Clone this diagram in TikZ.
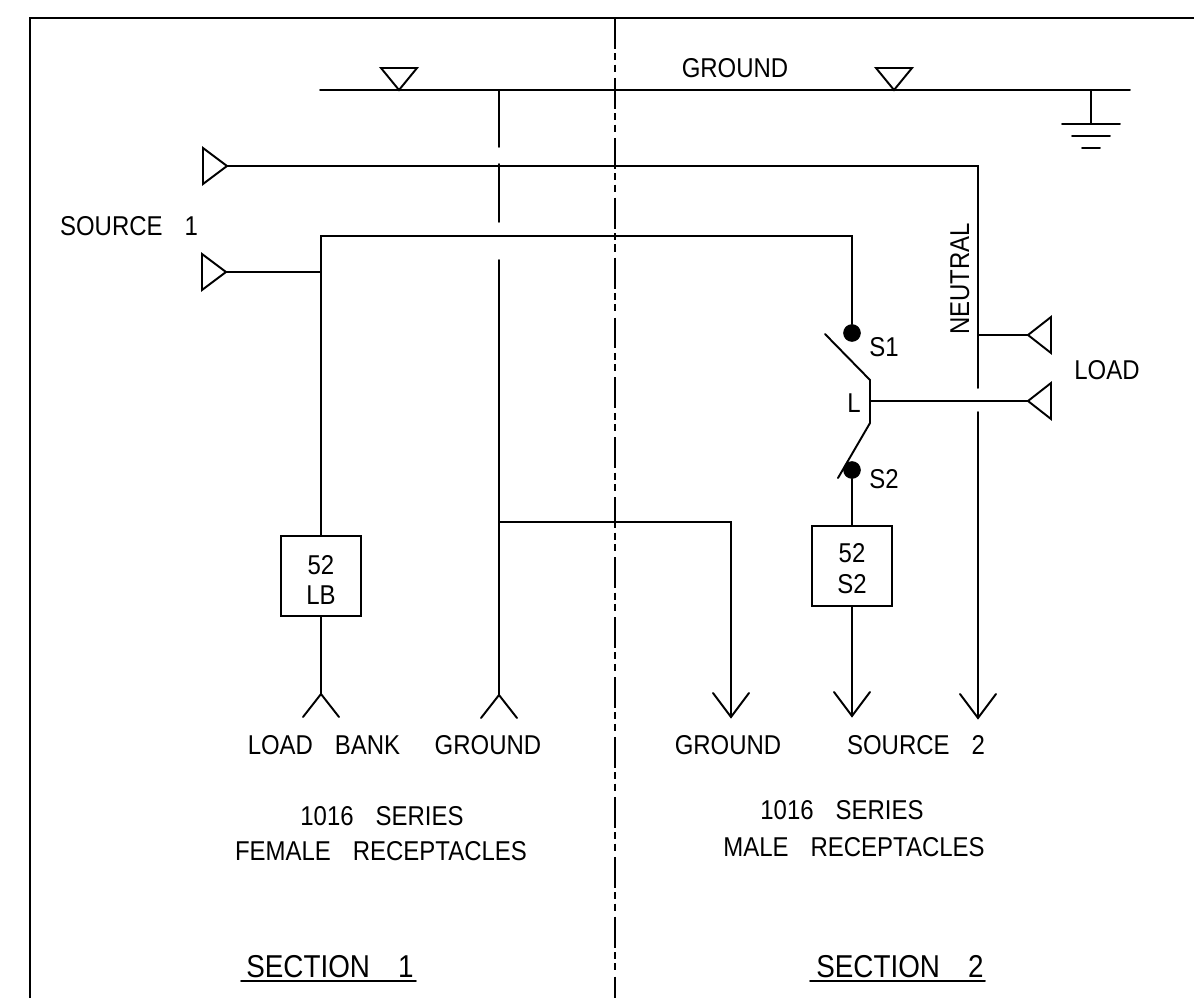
\documentclass[tikz,border=0pt]{standalone}
\usepackage{fontspec}
\setmainfont[FakeStretch=0.88]{Liberation Sans}
\usetikzlibrary{positioning, calc}

\newcommand{\wgap}{\hspace{12.5pt}}

\tikzset{
    wire/.style={line width=1.1pt, line cap=round},
    frameline/.style={line width=1.3pt},
    sectionline/.style={line width=1.1pt, dash pattern=on 17.6pt off 2.5pt on 4pt off 2.5pt on 4pt off 3.5pt},
    lbl/.style={inner sep=0pt, font=\fontsize{15.5}{18}\selectfont},
    titlelbl/.style={inner sep=0pt, font=\fontsize{18}{21}\selectfont},
    relaybox/.style={draw, line width=1.1pt, minimum size=45.5pt, inner sep=0pt, align=center, font=\fontsize{15.5}{18}\selectfont},
    contact/.style={draw, circle, fill=black, inner sep=0pt, minimum size=9.6pt}
}

\begin{document}
\begin{tikzpicture}[x=0.02cm, y=-0.02cm]
\useasboundingbox (0,0) rectangle (1194,998);

\coordinate (frameBL) at (30,998);
\coordinate (frameTL) at (30,18);
\coordinate (frameTR) at (1194,18);
\coordinate (midT) at (615,18);
\coordinate (midB) at (615,998);

\draw[frameline] (frameBL) -- (frameTL) -- (frameTR);
\draw[sectionline] (midT) -- (midB);

% ground bus
\coordinate (busL) at (320,90);
\coordinate (busR) at (1130,90);
\coordinate (busTap) at (499,90);
\coordinate (earthTap) at (1091,90);
\coordinate (earth) at (1091,124);
\coordinate (busA) at (399,90);
\coordinate (busB) at (894,90);
\draw[wire] (busL) -- (busR);
\draw[wire] (earthTap) -- (earth);
\foreach \w/\dy in {29/0,19/12,9/24}
{
\draw[wire] ($(earth)+(-\w,\dy)$) -- ($(earth)+(\w,\dy)$);
}
\foreach \t in {busA,busB}
{
\draw[wire] (\t) -- ++(-18,-22) -- ++(36,0) -- cycle;
}

% vertical ground wire with its gaps
\coordinate (gndA) at (499,147);
\coordinate (gndB) at (499,164);
\coordinate (gndC) at (499,222);
\coordinate (gndD) at (499,260);
\coordinate (gndE) at (499,522);
\coordinate (gndF) at (499,695);
\coordinate (gndG) at (731,522);
\coordinate (gndH) at (731,717);
\draw[wire] (busTap) -- (gndA);
\draw[wire] (gndB) -- (gndC);
\draw[wire] (gndD) -- (gndF);
\draw[wire] (gndE) -- (gndG) -- (gndH);

% neutral
\coordinate (srcN) at (227,166);
\coordinate (neuA) at (978,166);
\coordinate (neuB) at (978,388);
\coordinate (neuC) at (978,412);
\coordinate (neuD) at (978,718);
\coordinate (neuTap) at (978,335);
\coordinate (loadN) at (1028,335);
\draw[wire] (srcN) -- (neuA) -- (neuB);
\draw[wire] (neuC) -- (neuD);
\draw[wire] (neuTap) -- (loadN);

% source 1
\coordinate (srcL) at (226,272);
\coordinate (srcTap) at (321,272);
\coordinate (srcTop) at (321,236);
\coordinate (srcEnd) at (852,236);
\node[contact] (s1dot) at (852,333) {};
\node[relaybox] (lb52) at (321,576) {\rule{0pt}{15pt}52\\[-1pt]LB};
\coordinate (lbFork) at (321,694);
\draw[wire] (srcL) -- (srcTap);
\draw[wire] (lb52) -- (srcTop) -- (srcEnd) -- (s1dot);
\draw[wire] (lb52) -- (lbFork);

% transfer switch
\coordinate (bladeA) at (825,334);
\coordinate (bladeB) at (870,380);
\coordinate (bladeC) at (870,423);
\coordinate (bladeD) at (838,478);
\coordinate (loadTap) at (870,401);
\coordinate (loadL) at (1028,401);
\node[contact] (s2dot) at (852,470) {};
\node[relaybox] (s252) at (852,566) {\rule{0pt}{14pt}52\\S2};
\coordinate (s2End) at (852,716);
\draw[wire] (bladeA) -- (bladeB) -- (bladeC) -- (bladeD);
\draw[wire] (loadTap) -- (loadL);
\draw[wire] (s2dot) -- (s252);
\draw[wire] (s252) -- (s2End);

% terminals
\foreach \t in {srcN,srcL}
{
\draw[wire] (\t) -- ++(-24,-18) -- ++(0,36) -- cycle;
}
\foreach \t in {loadN,loadL}
{
\draw[wire] (\t) -- ++(23,-18) -- ++(0,36) -- cycle;
}
\foreach \t in {lbFork,gndF}
{
\draw[wire] ($(\t)+(-18,23)$) -- (\t) -- ($(\t)+(18,23)$);
}
\foreach \t in {gndH,s2End,neuD}
{
\draw[wire] ($(\t)+(-18,-24)$) -- (\t) -- ($(\t)+(18,-24)$);
}

\node[lbl] (gndtop) at (735,68) {GROUND};
\node[lbl] (src1) at (129,226) {SOURCE\wgap 1};
\node[lbl, rotate=90] (neutral) at (960,279) {NEUTRAL};
\node[lbl] (s1) at (884,347) {S1};
\node[lbl] (s2) at (884,479) {S2};
\node[lbl] (ltap) at (854,403) {L};
\node[lbl] (load) at (1107,370) {LOAD};
\node[lbl] (loadbank) at (324,745) {LOAD\wgap BANK};
\node[lbl] (gndf) at (488,745) {GROUND};
\node[lbl] (gndm) at (728,745) {GROUND};
\node[lbl] (src2) at (916,745) {SOURCE\wgap 2};
\node[lbl] (serf) at (382,816) {1016\wgap SERIES};
\node[lbl] (recf) at (381,851) {FEMALE\wgap RECEPTACLES};
\node[lbl] (serm) at (842,810) {1016\wgap SERIES};
\node[lbl] (recm) at (854,847) {MALE\wgap RECEPTACLES};
\node[titlelbl] (sec1) at (330,967) {SECTION\hspace{16pt}1};
\node[titlelbl] (sec2) at (900,967) {SECTION\hspace{16pt}2};

\coordinate (ulA) at (241,981);
\coordinate (ulB) at (416,981);
\coordinate (ulC) at (810,981);
\coordinate (ulD) at (985,981);
\draw[wire] (ulA) -- (ulB);
\draw[wire] (ulC) -- (ulD);

\end{tikzpicture}
\end{document}
